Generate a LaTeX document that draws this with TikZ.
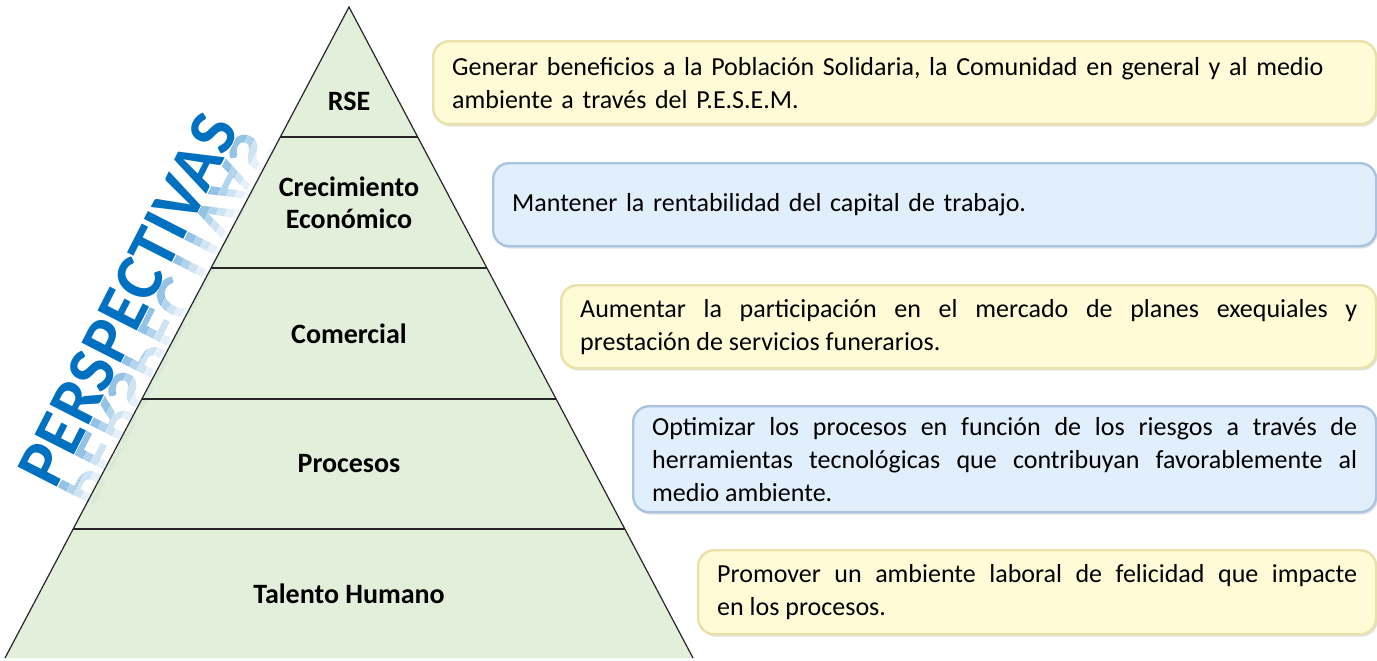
\documentclass[tikz,border=0pt]{standalone}
\usepackage{fontspec}
\setmainfont{Carlito}
\usetikzlibrary{calc}
\usetikzlibrary{shadows}
\definecolor{pyrgreen}{RGB}{226,239,218}
\definecolor{boxyellow}{RGB}{255,251,214}
\definecolor{lineyellow}{RGB}{233,224,170}
\definecolor{boxblue}{RGB}{224,239,251}
\definecolor{lineblue}{RGB}{170,196,224}
\definecolor{persblue}{RGB}{0,112,192}
\hyphenpenalty=10000
\tikzset{
    tier/.style = {draw=black!85, line width=0.6pt},
    level/.style = {align=center, text=black, font=\bfseries\fontsize{14}{16}\selectfont},
    goal/.style = {rectangle, rounded corners=8pt, line width=1.2pt, anchor=north west,
        inner xsep=9.5pt, inner ysep=2pt, align=justify, font=\fontsize{13}{16.5}\selectfont,
        drop shadow={opacity=0.22, shadow xshift=0.8pt, shadow yshift=-1.2pt}},
    goaly/.style = {goal, fill=boxyellow, draw=lineyellow},
    goalb/.style = {goal, fill=boxblue, draw=lineblue},
    perstext/.style = {inner sep=0pt, text=persblue, font=\bfseries\fontsize{34}{34}\selectfont},
    persp/.style = {rotate=63, perstext},
    refl/.style = {perstext, yscale=-1, anchor=base}, % mirrored copy
}

\begin{document}
\begin{tikzpicture}[x=0.5pt, y=-0.5pt]
\useasboundingbox (0,0) rectangle (1377,660);

% pyramid
\coordinate (apex) at (349,7);
\coordinate (bl) at (5,658);
\coordinate (br) at (693,658);
\fill[pyrgreen] (apex) -- (bl) -- (br) -- cycle;
\foreach \f in {0.1997,0.4009,0.6022,0.8018}
    \draw[tier] ($(apex)!\f!(bl)$) -- ($(apex)!\f!(br)$);
\draw[tier] (bl) -- (apex) -- (br);

\node[level] at (349,101) (rse) {RSE};
\node[level] at (349,203) (cre) {Crecimiento\\Económico};
\node[level] at (349,334) (com) {Comercial};
\node[level] at (349,464) (pro) {Procesos};
\node[level] at (349,594) (tal) {Talento Humano};

% side title, with a fading reflection below its baseline
\node[persp, anchor=base] at (148,310) (pers) {PERSPECTIVAS};
\foreach \d/\o in {0/0.42,4/0.3,8/0.19,12/0.1,16/0.04} {
  \begin{scope}[shift={(pers.base)}, rotate=63, transform shape]
    \clip (-160pt,{-\d pt}) rectangle (160pt,{-\d pt-4pt});
    \node[refl, text opacity=\o] at (0,0) {PERSPECTIVAS};
  \end{scope}
}

% goals
\node[goaly, align=left, text width=452.5pt, minimum height=41.5pt] at (432,40) (g1)
    {Generar beneficios a la Población Solidaria, la Comunidad en general y al medio ambiente a través del P.E.S.E.M.};
\node[goalb, align=left, text width=422.5pt, minimum height=41.5pt] at (492,162) (g2)
    {Mantener la rentabilidad del capital de trabajo.};
\node[goaly, text width=388.5pt, minimum height=41.5pt] at (560,284) (g3)
    {Aumentar la participación en el mercado de planes exequiales y\linebreak prestación de servicios funerarios.};
\node[goalb, text width=352.5pt, minimum height=53pt] at (632,405) (g4)
    {Optimizar los procesos en función de los riesgos a través de\linebreak herramientas tecnológicas que contribuyan favorablemente al\linebreak medio ambiente.};
\node[goaly, text width=320pt, minimum height=42pt] at (697,549) (g5)
    {Promover un ambiente laboral de felicidad que impacte\linebreak en los procesos.};

\end{tikzpicture}
\end{document}
